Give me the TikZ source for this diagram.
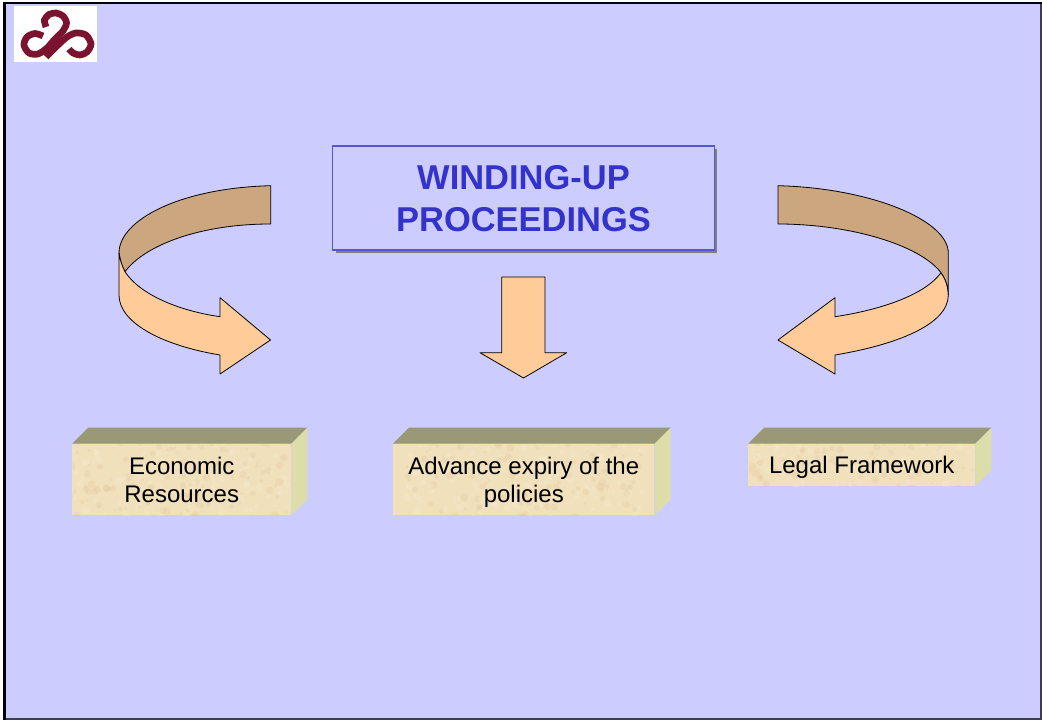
\documentclass[tikz,border=0pt]{standalone}
\usepackage{fontspec}
\setmainfont{Liberation Sans}
\usetikzlibrary{calc,shadows}
\definecolor{slide}{HTML}{CCCCFF}
\definecolor{titleblue}{HTML}{3333CC}
\definecolor{titleline}{HTML}{5555D5}
\definecolor{band}{HTML}{FFCC99}
\definecolor{bandback}{HTML}{CCA67F}
\definecolor{blocktop}{HTML}{999977}
\definecolor{blockside}{HTML}{DDDDAA}
\definecolor{blockfront}{HTML}{F0E0BC}
\definecolor{logored}{HTML}{7B1230}
\tikzset{
  arrowpart/.style={draw=black,line width=0.6pt,line join=round},
  logostroke/.style={draw=logored,line width=5pt,smooth},
  speckle/.style={fill=#1,opacity=0.2},
  titlebox/.style={draw=titleline,line width=0.8pt,fill=slide,minimum width=286pt,minimum height=78pt,
    align=center,text=titleblue,font=\bfseries\fontsize{25.85}{31.3}\selectfont,
    drop shadow={shadow xshift=2pt,shadow yshift=-2pt,fill=black!50,opacity=1}},
  blockbox/.style={fill=blockfront,inner sep=0pt,align=center,
    font=\fontsize{18}{21.5}\selectfont,
    path picture={
      \foreach \i in {1,...,260}{
        \pgfmathsetmacro{\spotx}{-1+2*rnd}
        \pgfmathsetmacro{\spoty}{-1+2*rnd}
        \pgfmathsetmacro{\spotr}{0.8+2.2*rnd}
        \pgfmathparse{rnd<0.5 ? "DDBE94" : "FBF2DA"}
        \definecolor{spot}{HTML}{\pgfmathresult}
        \fill[speckle=spot] ($(path picture bounding box.center)+(\spotx*90pt,\spoty*28pt)$) circle (\spotr pt);
      }
    }},
}
\def\blocknode{\node[blockbox]}
\def\topstrut{\rule{0pt}{17.05pt}}
\def\botstrut{\rule[-3.8pt]{0pt}{3.8pt}}
\begin{document}
\begin{tikzpicture}[x=0.75pt,y=-0.75pt]
\useasboundingbox (0,0) rectangle (1042,720);
\pgfmathsetseed{42}
\fill[white] (0,0) rectangle (1042,720);
\fill[slide] (5,3) rectangle (1041,719);
\draw[line width=0.8pt,color=black!70!slide] (5,719) -- (1041,719) -- (1041,3);
\draw[line width=2pt] (4.5,720) -- (4.5,3) -- (1042,3);
% logo
\fill[white] (14,6) rectangle (97,62);
\draw[logostroke] plot coordinates {(46,27) (44.5,20) (49,14.5) (56,13) (63,16) (66.5,23) (63,31) (55,39) (47,48) (38,54) (29,53) (24,45) (27,37) (35,33.5) (43,36)};
\draw[logostroke] plot coordinates {(46,57) (57,46) (67,37) (76,33) (86,35) (91,44) (87,52) (80,55) (73,53) (69,49)};
% title
\node[titlebox] (title) at (523.5,198) {\rule{0pt}{18.6pt}WINDING-UP\\PROCEEDINGS};
% left arrow
\draw[arrowpart,fill=bandback] (270.7,185.7) .. controls (180,188) and (119,220) .. (119,253)
  .. controls (120,260) and (122,266) .. (125,271.7)
  .. controls (145,245) and (200,224) .. (270.7,224) -- cycle;
\draw[arrowpart,fill=band] (119,253) -- (119,295) .. controls (119,322) and (160,345) .. (220,355)
  -- (220,374) -- (270.5,340) -- (220,297.7) -- (220,316.7)
  .. controls (180,311) and (140,295) .. (125,271.7)
  .. controls (122,266) and (120,260) .. (119,253) -- cycle;
% right arrow
\draw[arrowpart,fill=band] (948.3,295) .. controls (948.3,325) and (895,345) .. (835,355)
  -- (835,374) -- (778,340) -- (835,297.7) -- (835,316.7)
  .. controls (880,310) and (925,295) .. (941,272.7)
  .. controls (945,278) and (948.3,286) .. (948.3,295) -- cycle;
\draw[arrowpart,fill=bandback] (778,185.7) .. controls (870,188) and (948.3,220) .. (948.3,253)
  -- (948.3,295) .. controls (948.3,286) and (945,278) .. (941,272.7)
  .. controls (920,245) and (850,224) .. (778,224) -- cycle;
% down arrow
\draw[arrowpart,fill=band] (501.7,277) -- (545,277) -- (545,352.7) -- (566.7,352.7) -- (523.5,378)
  -- (480,352.7) -- (501.7,352.7) -- cycle;
% blocks
\blocknode[minimum width=164pt,minimum height=53.25pt] (economic) at (181.7,479.5) {\topstrut Economic\\Resources\botstrut};
\blocknode[minimum width=196pt,minimum height=53.25pt] (expiry) at (523.8,479.5) {\topstrut Advance expiry of the\\policies\botstrut};
\blocknode[minimum width=170pt,minimum height=31.5pt] (legal) at (861.7,465) {\topstrut Legal Framework\botstrut};
\foreach \block in {economic,expiry,legal}{
  \fill[blocktop] (\block.north west) -- ++(16,-16) -- ($(\block.north east)+(12pt,12pt)$) -- (\block.north east) -- cycle;
  \fill[blockside] (\block.north east) -- ++(16,-16) -- ($(\block.south east)+(12pt,12pt)$) -- (\block.south east) -- cycle;
}
\end{tikzpicture}
\end{document}
